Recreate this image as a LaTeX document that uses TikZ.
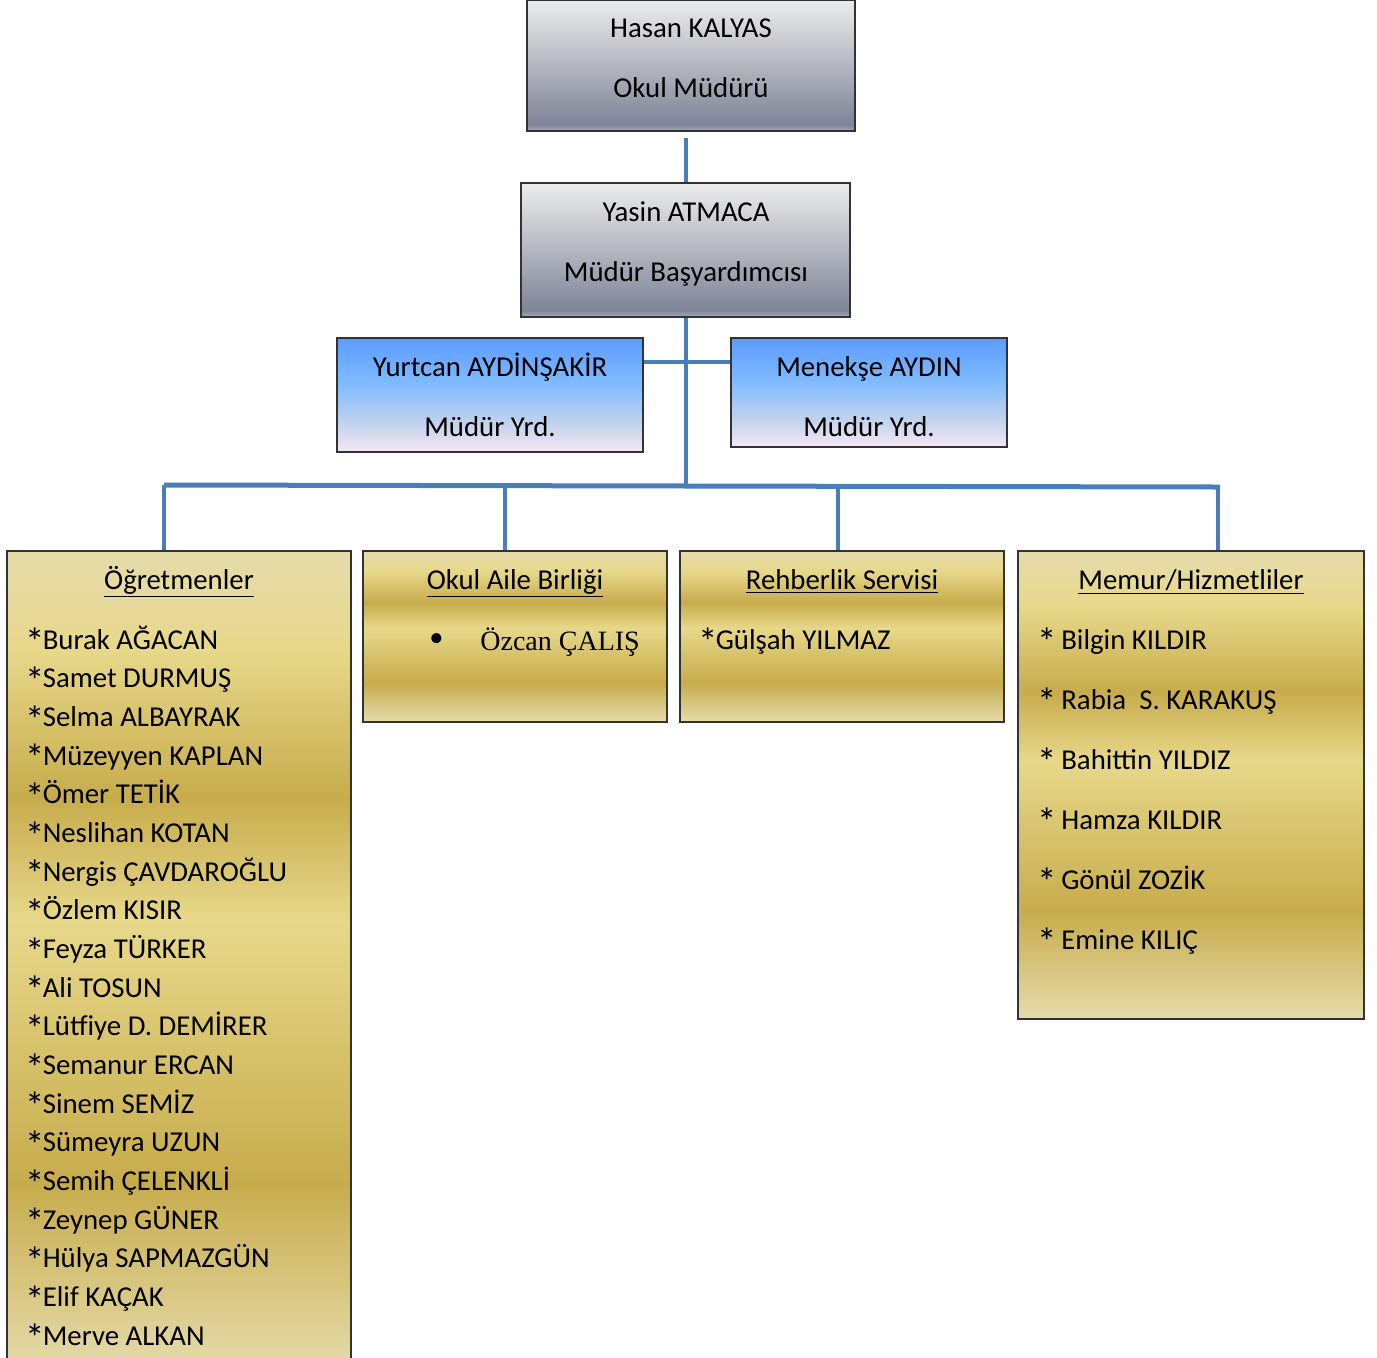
\documentclass[tikz,border=0pt]{standalone}
\usepackage{fontspec}
\setmainfont{Carlito}
\newfontfamily\bulletfont{Liberation Serif}
\usepackage{tikz}
\pgfdeclarelayer{nodelayer}
\pgfdeclarelayer{edgelayer}
\pgfsetlayers{edgelayer,nodelayer,main}
\definecolor{linkblue}{HTML}{4A7EBB}
\definecolor{gold1}{HTML}{E6DCAC}
\definecolor{gold2}{HTML}{E7D88A}
\definecolor{gold3}{HTML}{C7AC4C}
\definecolor{silver1}{HTML}{ECECEC}
\definecolor{silver2}{HTML}{B4B7C0}
\definecolor{silver3}{HTML}{7E8497}
\definecolor{silver4}{HTML}{A6AAB6}
\definecolor{sky1}{HTML}{5B9BFF}
\definecolor{sky2}{HTML}{80BBFF}
\definecolor{sky3}{HTML}{C2D3EC}
\definecolor{sky4}{HTML}{F6E7F4}
\pgfdeclareverticalshading{goldshade}{100bp}{color(0bp)=(gold1); color(25bp)=(gold1); color(36.5bp)=(gold3); color(52.5bp)=(gold2); color(60bp)=(gold3); color(69bp)=(gold2); color(75bp)=(gold1); color(100bp)=(gold1)}
\pgfdeclareverticalshading{grayshade}{100bp}{color(0bp)=(silver4); color(25bp)=(silver4); color(27.5bp)=(silver3); color(50bp)=(silver2); color(75bp)=(silver1); color(100bp)=(silver1)}
\pgfdeclareverticalshading{blueshade}{100bp}{color(0bp)=(sky4); color(25bp)=(sky4); color(37.5bp)=(sky3); color(55bp)=(sky2); color(75bp)=(sky1); color(100bp)=(sky1)}
% larger list asterisk, as in the chart
\newcommand{\listast}{\makebox[0.5em][c]{\raisebox{-0.24em}{\scalebox{1.35}{*}}}}

\begin{document}
\begin{tikzpicture}[x=0.5pt,y=-0.5pt,
	box/.style={draw=black!80, line width=0.7pt, inner sep=0pt, shade, shading=#1},
	txt/.style={anchor=base, inner sep=0pt, font=\fontsize{14.4}{17}\selectfont},
	txtl/.style={txt, anchor=base west},
	link/.style={draw=linkblue, line width=2pt}]
	\useasboundingbox (0,0) rectangle (1377,1357);
	\begin{pgfonlayer}{nodelayer}
		% boxes
		\node [box=grayshade, minimum width=164pt, minimum height=65.5pt] (hasan) at (691, 65.5) {};
		\node [box=grayshade, minimum width=164.5pt, minimum height=67pt] (yasin) at (685.5, 250) {};
		\node [box=blueshade, minimum width=153pt, minimum height=57pt] (yurtcan) at (490, 395) {};
		\node [box=blueshade, minimum width=138pt, minimum height=54.5pt] (menekse) at (869, 392.5) {};
		\node [box=goldshade, minimum width=172pt, minimum height=410.5pt] (ogretmen) at (179, 961.5) {};
		\node [box=goldshade, minimum width=152pt, minimum height=85.5pt] (aile) at (515, 636.5) {};
		\node [box=goldshade, minimum width=162pt, minimum height=85.5pt] (rehber) at (842, 636.5) {};
		\node [box=goldshade, minimum width=173pt, minimum height=234pt] (memur) at (1191, 785) {};
		% titles
		\node [txt] (hasan1) at (691, 37) {Hasan KALYAS};
		\node [txt] (hasan2) at (691, 97) {Okul Müdürü};
		\node [txt] (yasin1) at (686, 221) {Yasin ATMACA};
		\node [txt] (yasin2) at (686, 281) {Müdür Başyardımcısı};
		\node [txt] (yurtcan1) at (490, 376) {Yurtcan AYDİNŞAKİR};
		\node [txt] (yurtcan2) at (490, 436) {Müdür Yrd.};
		\node [txt] (menekse1) at (869, 376) {Menekşe AYDIN};
		\node [txt] (menekse2) at (869, 436) {Müdür Yrd.};
		\node [txt] (ogretmen0) at (179, 589) {\underline{Öğretmenler}};
		\node [txt] (aile0) at (515, 589) {\underline{Okul Aile Birliği}};
		\node [txt] (rehber0) at (842, 589) {\underline{Rehberlik Servisi}};
		\node [txt] (memur0) at (1191, 589) {\underline{Memur/Hizmetliler}};
		% teachers
		\node [txtl] (t1) at (28, 649) {\listast Burak AĞACAN};
		\node [txtl] (t2) at (28, 687.7) {\listast Samet DURMUŞ};
		\node [txtl] (t3) at (28, 726.3) {\listast Selma ALBAYRAK};
		\node [txtl] (t4) at (28, 765) {\listast Müzeyyen KAPLAN};
		\node [txtl] (t5) at (28, 803.7) {\listast Ömer TETİK};
		\node [txtl] (t6) at (28, 842.3) {\listast Neslihan KOTAN};
		\node [txtl] (t7) at (28, 881) {\listast Nergis ÇAVDAROĞLU};
		\node [txtl] (t8) at (28, 919.7) {\listast Özlem KISIR};
		\node [txtl] (t9) at (28, 958.3) {\listast Feyza TÜRKER};
		\node [txtl] (t10) at (28, 997) {\listast Ali TOSUN};
		\node [txtl] (t11) at (28, 1035.7) {\listast Lütfiye D. DEMİRER};
		\node [txtl] (t12) at (28, 1074.3) {\listast Semanur ERCAN};
		\node [txtl] (t13) at (28, 1113) {\listast Sinem SEMİZ};
		\node [txtl] (t14) at (28, 1151.7) {\listast Sümeyra UZUN};
		\node [txtl] (t15) at (28, 1190.3) {\listast Semih ÇELENKLİ};
		\node [txtl] (t16) at (28, 1229) {\listast Zeynep GÜNER};
		\node [txtl] (t17) at (28, 1267.7) {\listast Hülya SAPMAZGÜN};
		\node [txtl] (t18) at (28, 1306.3) {\listast Elif KAÇAK};
		\node [txtl] (t19) at (28, 1345) {\listast Merve ALKAN};
		% other lists
		\node [txtl, font=\bulletfont\fontsize{14}{17}\selectfont] (a1) at (429, 650) {\makebox[25.5pt][l]{\raisebox{-0.1em}{\scalebox{1.5}{•}}}Özcan ÇALIŞ};
		\node [txtl] (r1) at (701, 649) {\listast Gülşah YILMAZ};
		\node [txtl] (m1) at (1040, 649) {\listast\ Bilgin KILDIR};
		\node [txtl] (m2) at (1040, 709) {\listast\ Rabia\ \ S. KARAKUŞ};
		\node [txtl] (m3) at (1040, 769) {\listast\ Bahittin YILDIZ};
		\node [txtl] (m4) at (1040, 829) {\listast\ Hamza KILDIR};
		\node [txtl] (m5) at (1040, 889) {\listast\ Gönül ZOZİK};
		\node [txtl] (m6) at (1040, 949) {\listast\ Emine KILIÇ};
	\end{pgfonlayer}
	\begin{pgfonlayer}{edgelayer}
		\coordinate (hasanstub) at (686, 138);
		\coordinate (trunkend) at (686, 488);
		\coordinate (deputybar) at (686, 362);
		\coordinate (busleft) at (164, 485);
		\coordinate (busright) at (1220, 487);
		\coordinate (drop2) at (505, 486);
		\coordinate (drop3) at (838, 486);
		\coordinate (drop4) at (1218, 487);
		\draw [link] (hasanstub) to (hasanstub |- yasin.north);
		\draw [link] (trunkend |- yasin.south) to (trunkend);
		\draw [link] (deputybar -| yurtcan.east) to (deputybar -| menekse.west);
		\draw [link, line width=2.5pt] (busleft) to (busright);
		\draw [link] (busleft) to (busleft |- ogretmen.north);
		\draw [link] (drop2) to (drop2 |- aile.north);
		\draw [link] (drop3) to (drop3 |- rehber.north);
		\draw [link] (drop4) to (drop4 |- memur.north);
	\end{pgfonlayer}
\end{tikzpicture}
\end{document}
